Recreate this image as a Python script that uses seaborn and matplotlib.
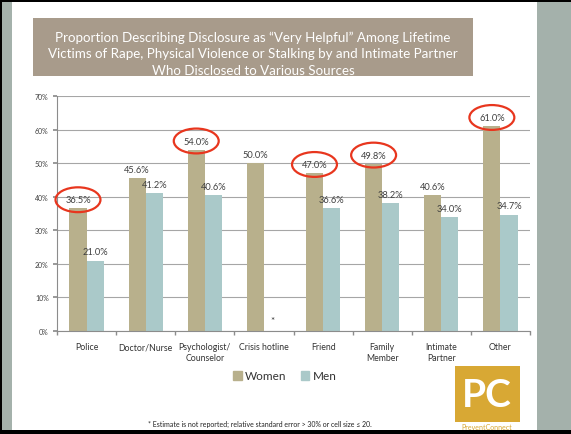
import numpy as np
import pandas as pd
import matplotlib.pyplot as plt
import seaborn as sns
from matplotlib.patches import Rectangle, Ellipse, Patch

# data
categories = ["Police", "Doctor/Nurse", "Psychologist/\nCounselor", "Crisis hotline",
              "Friend", "Family\nMember", "Intimate\nPartner", "Other"]
women = [36.5, 45.6, 54.0, 50.0, 47.0, 49.8, 40.6, 61.0]
men = [21.0, 41.2, 40.6, np.nan, 36.6, 38.2, 34.0, 34.7]
circled = ["Police", "Psychologist/\nCounselor", "Friend", "Family\nMember", "Other"]
y_ticks = [0, 10, 20, 30, 40, 50, 60, 70]

COLORS = {"Women": "#B8B08C", "Men": "#AAC9C9"}
W, H = 571, 435


def fx(x):
    return x / W


def fy(y):
    return 1 - y / H


sns.set_theme(style="white")
plt.rcParams["font.family"] = ["Lato", "DejaVu Sans"]

df = pd.DataFrame({
    "Source": categories * 2,
    "Sex": ["Women"] * len(categories) + ["Men"] * len(categories),
    "Value": women + men,
})

fig = plt.figure(figsize=(W / 100, H / 100), dpi=100)
fig.patch.set_facecolor("white")

# slide frame: grey side strips and black border
fig.add_artist(Rectangle((fx(2), 0), fx(12) - fx(2), 1, transform=fig.transFigure,
                         color="#A4B1AB", lw=0, zorder=-1))
fig.add_artist(Rectangle((fx(537), 0), 1 - fx(537), 1, transform=fig.transFigure,
                         color="#A4B1AB", lw=0, zorder=-1))
fig.add_artist(Rectangle((0, 0), fx(2), 1, transform=fig.transFigure, color="black", lw=0))
fig.add_artist(Rectangle((0, fy(3)), 1, 1 - fy(3), transform=fig.transFigure, color="black", lw=0))
fig.add_artist(Rectangle((0, 0), 1, fy(431), transform=fig.transFigure, color="black", lw=0))

# title box
box = Rectangle((fx(33), fy(77)), fx(473) - fx(33), fy(19) - fy(77),
                transform=fig.transFigure, color="#A89B8B", lw=0)
fig.add_artist(box)
title = fig.text(fx(253), fy(54),
                 "Proportion Describing Disclosure as \u201cVery Helpful\u201d Among Lifetime\n"
                 "Victims of Rape, Physical Violence or Stalking by and Intimate Partner\n"
                 "Who Disclosed to Various Sources",
                 ha="center", va="center", color="white", fontsize=9.6, linespacing=1.45)
title.set_clip_path(box)

ax = fig.add_axes([fx(57), fy(332), fx(530) - fx(57), fy(97) - fy(332)])
sns.barplot(data=df, x="Source", y="Value", hue="Sex", palette=COLORS, width=0.58,
            saturation=1, errorbar=None, linewidth=0, legend=False, ax=ax)

for cont in ax.containers:
    ax.bar_label(cont, fmt="%.1f%%", padding=3, fontsize=6.7, color="#404040")

# red circles around the highlighted women values
for i, cat in enumerate(categories):
    if cat in circled:
        bar = ax.containers[0][i]
        cx = bar.get_x() + bar.get_width() / 2
        ax.add_patch(Ellipse((cx, bar.get_height() + 2.6), 0.76, 7.4, fill=False,
                             ec="#E8361E", lw=1.6, clip_on=False, zorder=5))

# crisis hotline men value not reported
bar = ax.containers[0][categories.index("Crisis hotline")]
ax.text(bar.get_x() + bar.get_width() * 1.5, 3.0, "*", ha="center", va="center",
        fontsize=7, color="#333333")

ax.set_ylim(0, 70)
ax.set_xlim(-0.5, len(categories) - 0.5)
ax.set_yticks(y_ticks)
ax.set_yticklabels([f"{t}%" for t in y_ticks])
ax.set_xlabel("")
ax.set_ylabel("")
ax.grid(axis="y", color="#A6A6A6", lw=0.8)
ax.set_axisbelow(True)
for side in ["top", "right"]:
    ax.spines[side].set_visible(False)
for side in ["left", "bottom"]:
    ax.spines[side].set_color("#8C8C8C")
    ax.spines[side].set_linewidth(0.8)
ax.tick_params(axis="y", left=True, length=3, color="#8C8C8C", labelsize=5,
               labelcolor="#404040", pad=3)
ax.set_xticks(np.arange(-0.5, len(categories)), minor=True)
ax.tick_params(axis="x", which="major", length=0, labelsize=6.3, labelcolor="#333333", pad=8)
ax.tick_params(axis="x", which="minor", bottom=True, length=3, color="#8C8C8C")

handles = [Patch(color=COLORS["Women"]), Patch(color=COLORS["Men"])]
fig.legend(handles, ["Women", "Men"], loc="center", bbox_to_anchor=(fx(285), fy(377)),
           ncol=2, frameon=False, fontsize=8.5, handlelength=0.7, handleheight=0.7,
           handletextpad=0.3, columnspacing=1.2, labelcolor="#333333")

fig.text(fx(260), fy(424),
         "* Estimate is not reported; relative standard error > 30% or cell size \u2264 20.",
         ha="center", va="center", fontsize=5, color="#222222")

# PreventConnect logo
fig.add_artist(Rectangle((fx(455), fy(423)), fx(520) - fx(455), fy(367) - fy(423),
                         transform=fig.transFigure, color="#D8A834", lw=0))
fig.text(fx(487), fy(396), "PC", ha="center", va="center", color="white",
         fontsize=28, fontweight="bold")
fig.text(fx(487), fy(428), "PreventConnect", ha="center", va="center",
         color="#D8A834", fontsize=5)

fig.savefig("out.png", dpi=100)
